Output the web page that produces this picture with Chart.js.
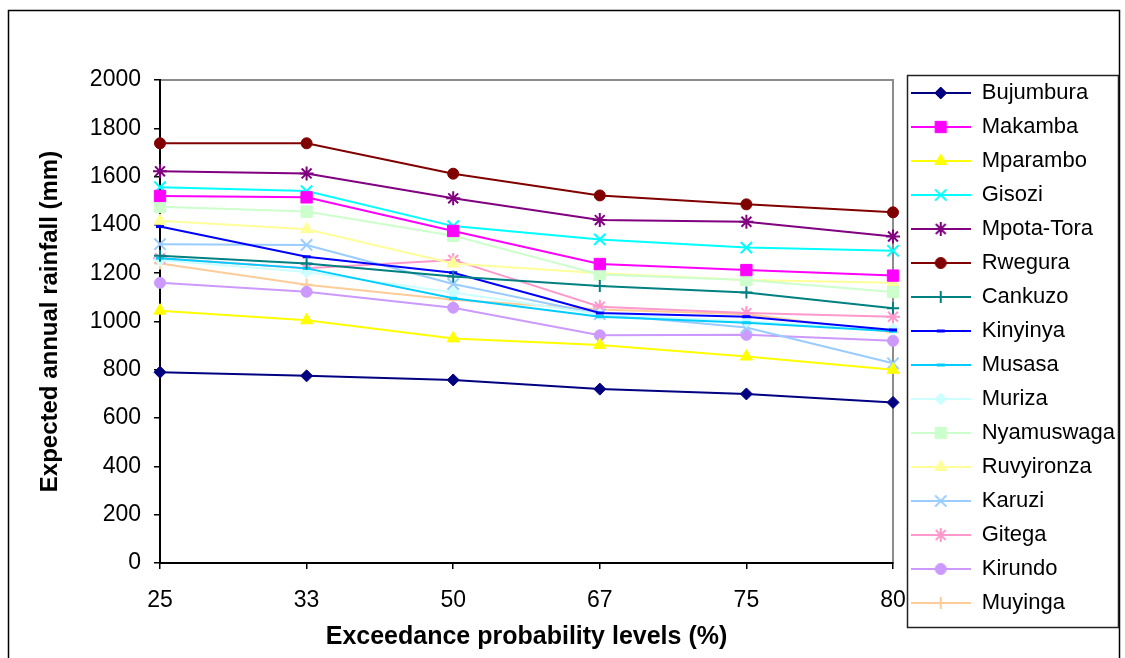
<!DOCTYPE html>
<html>
<head>
<meta charset="utf-8">
<script src="https://cdn.jsdelivr.net/npm/chart.js@4"></script>
<style>
  html, body { margin: 0; padding: 0; background: #fff; overflow: hidden; }
  #wrap { width: 1125px; height: 658px; }
</style>
</head>
<body>
<div id="wrap"><canvas id="rainChart" width="1125" height="658"></canvas></div>
<script>
// Exceedance probability levels (x categories)
const probLevels = ['25', '33', '50', '67', '75', '80'];

// Expected annual rainfall (mm) per station
const bujumbura  = [790, 775, 758, 720, 700, 665];
const makamba    = [1520, 1514, 1375, 1238, 1213, 1190];
const mparambo   = [1045, 1005, 930, 903, 855, 800];
const gisozi     = [1556, 1540, 1395, 1340, 1306, 1293];
const mpotaTora  = [1622, 1613, 1510, 1420, 1413, 1352];
const rwegura    = [1738, 1738, 1612, 1522, 1485, 1452];
const cankuzo    = [1272, 1240, 1186, 1147, 1120, 1055];
const kinyinya   = [1393, 1268, 1202, 1035, 1020, 965];
const musasa     = [1262, 1220, 1096, 1020, 995, 960];
const muriza     = [1255, 1205, 1120, 1030, 1000, 968];
const nyamuswaga = [1475, 1455, 1355, 1195, 1172, 1122];
const ruvyironza = [1417, 1382, 1240, 1200, 1172, 1160];
const karuzi     = [1320, 1317, 1155, 1030, 975, 827];
const gitega     = [1262, 1220, 1255, 1061, 1035, 1020];
const kirundo    = [1160, 1123, 1057, 943, 945, 920];
const muyinga    = [1240, 1152, 1090, 1050, 1030, 955];

// y axis ticks
const yMin = 0, yMax = 2000, yStep = 200;

// name, values, colour, marker, marker radius
const series = [
  ['Bujumbura',  bujumbura,  '#000080', 'rectRot',  6],
  ['Makamba',    makamba,    '#FF00FF', 'rect',     8],
  ['Mparambo',   mparambo,   '#FFFF00', 'triangle', 7],
  ['Gisozi',     gisozi,     '#00FFFF', 'crossRot', 8],
  ['Mpota-Tora', mpotaTora,  '#800080', 'star',     7],
  ['Rwegura',    rwegura,    '#800000', 'circle',   5.5],
  ['Cankuzo',    cankuzo,    '#008080', 'cross',    6],
  ['Kinyinya',   kinyinya,   '#0000FF', 'line',     4],
  ['Musasa',     musasa,     '#00CCFF', 'line',     4],
  ['Muriza',     muriza,     '#CCFFFF', 'rectRot',  6],
  ['Nyamuswaga', nyamuswaga, '#CCFFCC', 'rect',     8],
  ['Ruvyironza', ruvyironza, '#FFFF99', 'triangle', 7],
  ['Karuzi',     karuzi,     '#99CCFF', 'crossRot', 8],
  ['Gitega',     gitega,     '#FF99CC', 'star',     7],
  ['Kirundo',    kirundo,    '#CC99FF', 'circle',   5.5],
  ['Muyinga',    muyinga,    '#FFCC99', 'cross',    6]
];

const FONT = '"Liberation Sans", Arial, sans-serif';

const datasets = series.map(function (s) {
  const filled = ['rectRot', 'rect', 'triangle', 'circle'].indexOf(s[3]) >= 0;
  return {
    label: s[0],
    data: s[1],
    borderColor: s[2],
    backgroundColor: s[2],
    borderWidth: 2,
    tension: 0,
    pointStyle: s[3],
    pointRadius: s[4],
    pointHoverRadius: s[4],
    pointBackgroundColor: s[2],
    pointBorderColor: s[2],
    pointBorderWidth: filled ? 1 : (s[3] === 'line' ? 3 : 2)
  };
});

// small canvas for legend: line segment with marker in the middle
function legendIcon(ds) {
  const cv = document.createElement('canvas');
  cv.width = 60; cv.height = 20;
  const g = cv.getContext('2d');
  g.strokeStyle = ds.borderColor;
  g.lineWidth = 2;
  g.beginPath(); g.moveTo(0, 10); g.lineTo(60, 10); g.stroke();
  g.fillStyle = ds.pointBackgroundColor;
  g.strokeStyle = ds.pointBorderColor;
  g.lineWidth = ds.pointBorderWidth;
  Chart.helpers.drawPoint(g, {
    pointStyle: ds.pointStyle, radius: ds.pointRadius, rotation: 0, borderWidth: ds.pointBorderWidth
  }, 30, 10);
  return cv;
}
const icons = datasets.map(legendIcon);

// white background, grey plot-area frame, outer frame and legend box
const framePlugin = {
  id: 'frame',
  beforeDraw: function (chart) {
    const c = chart.ctx, a = chart.chartArea;
    c.save();
    c.fillStyle = '#fff';
    c.fillRect(0, 0, chart.width, chart.height);
    c.strokeStyle = '#8c8c8c';
    c.lineWidth = 2;
    c.strokeRect(a.left, a.top, a.right - a.left, a.bottom - a.top);
    c.restore();
  },
  afterDraw: function (chart) {
    const c = chart.ctx;
    c.save();
    c.strokeStyle = '#000';
    c.lineWidth = 1.5;
    c.strokeRect(8.5, 10.5, 1111, 700);
    c.strokeStyle = '#222';
    c.strokeRect(907.5, 75.5, 211, 552);
    c.restore();
  }
};

const ctx = document.getElementById('rainChart').getContext('2d');
const rainChart = new Chart(ctx, {
  type: 'line',
  data: { labels: probLevels, datasets: datasets },
  plugins: [framePlugin],
  options: {
    responsive: false,
    animation: false,
    layout: { padding: { left: 8, right: 0, top: 70, bottom: 0 } },
    plugins: {
      title: { display: false },
      tooltip: { enabled: false },
      legend: {
        position: 'right',
        align: 'start',
        maxWidth: 240,
        labels: {
          usePointStyle: true,
          pointStyleWidth: 60,
          padding: 12,
          color: '#000',
          font: { family: FONT, size: 22 },
          generateLabels: function (chart) {
            const items = Chart.defaults.plugins.legend.labels.generateLabels(chart);
            items.forEach(function (it) { it.pointStyle = icons[it.datasetIndex]; });
            return items;
          }
        }
      }
    },
    scales: {
      x: {
        offset: false,
        grid: { display: true, drawOnChartArea: false, tickLength: 6, color: '#000', lineWidth: 1.5 },
        border: { display: true, color: '#000', width: 2 },
        ticks: { color: '#000', padding: 18, font: { family: FONT, size: 23 }, maxRotation: 0 },
        title: {
          display: true,
          text: 'Exceedance probability levels (%)',
          color: '#000',
          font: { family: FONT, size: 25, weight: 'bold' },
          padding: { top: 0, bottom: 6 }
        },
        afterFit: function (s) { s.height = 95; }
      },
      y: {
        min: yMin,
        max: yMax,
        grid: { display: true, drawOnChartArea: false, tickLength: 6, color: '#000', lineWidth: 1.5 },
        border: { display: true, color: '#000', width: 2 },
        ticks: {
          stepSize: yStep, color: '#000', padding: 13, font: { family: FONT, size: 23 },
          callback: function (v) { return String(v); }
        },
        title: {
          display: true,
          text: 'Expected annual rainfall (mm)',
          color: '#000',
          font: { family: FONT, size: 24, weight: 'bold' },
          padding: { top: 28, bottom: 0 }
        },
        afterFit: function (s) { s.width = 152; }
      },
      // spacer boxes: push the plot area below the legend top and left of the legend
      xTop: {
        position: 'top',
        display: true,
        grid: { display: false }, border: { display: false }, ticks: { display: false },
        afterFit: function (s) { s.height = 10; }
      },
      yRight: {
        position: 'right',
        display: true,
        grid: { display: false }, border: { display: false }, ticks: { display: false },
        afterFit: function (s) { s.width = Math.max(0, s.chart.width - 893 - s.chart.legend.width); }
      }
    }
  }
});
</script>
</body>
</html>
